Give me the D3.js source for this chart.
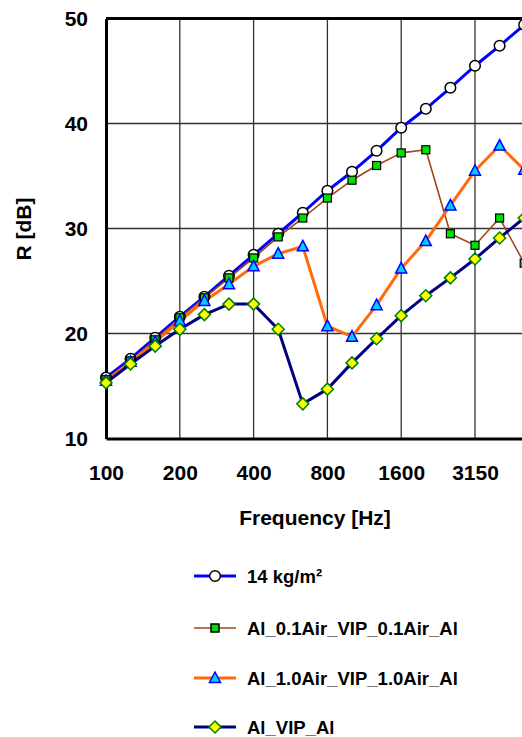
<!DOCTYPE html>
<html><head><meta charset="utf-8">
<script src="https://cdn.jsdelivr.net/npm/d3@7"></script>
<style>body{margin:0;background:#fff}svg{display:block}text{font-family:Arial,"Liberation Sans",sans-serif;font-weight:bold}</style>
</head><body><svg id="c" width="522" height="737"></svg>
<script>
const freqs = ["100","125","160","200","250","315","400","500","630","800","1000","1250","1600","2000","2500","3150","4000","5000"];
const tickLabels = ["100","200","400","800","1600","3150"];
const yTicks = [10,20,30,40,50];
const massLaw = [15.8,17.6,19.6,21.6,23.5,25.5,27.5,29.5,31.5,33.6,35.4,37.4,39.6,41.4,43.4,45.5,47.4,49.4];
const al01 = [15.6,17.4,19.4,21.5,23.4,25.3,27.2,29.2,31.0,32.9,34.6,36.0,37.2,37.5,29.5,28.4,31.0,26.7];
const al10 = [15.5,17.3,19.2,21.2,23.1,24.7,26.4,27.6,28.3,20.7,19.7,22.7,26.2,28.8,32.2,35.5,37.9,35.6];
const alVip = [15.3,17.1,18.8,20.4,21.8,22.8,22.8,20.4,13.3,14.7,17.2,19.5,21.7,23.6,25.3,27.1,29.1,31.0];
const seriesNames = ["14 kg/m²","Al_0.1Air_VIP_0.1Air_Al","Al_1.0Air_VIP_1.0Air_Al","Al_VIP_Al"];

const series = [
  {name:seriesNames[0], values:massLaw, line:"#0000ff", lw:3, marker:"circle", fill:"#ffffff", stroke:"#000000"},
  {name:seriesNames[1], values:al01, line:"#a0461e", lw:1.6, marker:"square", fill:"#00e000", stroke:"#000000"},
  {name:seriesNames[2], values:al10, line:"#ff6a0a", lw:3, marker:"triangle", fill:"#00ccff", stroke:"#0000ff"},
  {name:seriesNames[3], values:alVip, line:"#000080", lw:3, marker:"diamond", fill:"#ffff00", stroke:"#008000"}
];

const svg = d3.select("#c");
const L = 106, T = 18.5, B = 438.5, R = 524.2;
const x = d3.scalePoint().domain(freqs).range([L, R]).padding(0);
const y = d3.scaleLinear().domain([10,50]).range([B, T]);

// grid
const g = svg.append("g");
g.selectAll("line.h").data(yTicks.slice(1,-1)).join("line")
  .attr("x1",L).attr("x2",R).attr("y1",d=>y(d)).attr("y2",d=>y(d))
  .attr("stroke","#333").attr("stroke-width",1.3);
g.selectAll("line.v").data(tickLabels.slice(1)).join("line")
  .attr("x1",d=>x(d)).attr("x2",d=>x(d)).attr("y1",T).attr("y2",B)
  .attr("stroke","#333").attr("stroke-width",1.3);

// axes
const xa = svg.append("g").attr("transform",`translate(0,${B})`)
  .call(d3.axisBottom(x).tickValues(tickLabels).tickSize(0).tickPadding(27));
xa.select(".domain").attr("stroke","#000").attr("stroke-width",3);
xa.selectAll("text").attr("font-size",21).attr("fill","#000");
const ya = svg.append("g").attr("transform",`translate(${L},0)`)
  .call(d3.axisLeft(y).tickValues(yTicks).tickSize(0).tickPadding(18));
ya.select(".domain").attr("stroke","#000").attr("stroke-width",3);
ya.selectAll("text").attr("font-size",21).attr("fill","#000");
svg.append("line").attr("x1",L).attr("x2",R).attr("y1",T).attr("y2",T).attr("stroke","#000").attr("stroke-width",3);

svg.append("text").attr("x",315).attr("y",525).attr("text-anchor","middle").attr("font-size",21).text("Frequency [Hz]");
svg.append("text").attr("transform","translate(31,229) rotate(-90)").attr("text-anchor","middle").attr("font-size",21).text("R [dB]");

function drawMarker(sel, type){
  if(type==="circle") sel.append("circle").attr("r",5.3);
  else if(type==="square") sel.append("rect").attr("x",-4).attr("y",-4).attr("width",8).attr("height",8);
  else if(type==="triangle") sel.append("path").attr("d","M0,-6L5.5,4.5L-5.5,4.5Z");
  else sel.append("path").attr("d","M0,-6L6,0L0,6L-6,0Z");
}

const line = d3.line().x((d,i)=>x(freqs[i])).y(d=>y(d));
series.forEach(s=>{
  svg.append("path").datum(s.values).attr("d",line).attr("fill","none")
    .attr("stroke",s.line).attr("stroke-width",s.lw).attr("stroke-linejoin","round");
});
series.forEach(s=>{
  s.values.forEach((v,i)=>{
    const m = svg.append("g").attr("transform",`translate(${x(freqs[i])},${y(v)})`)
      .attr("fill",s.fill).attr("stroke",s.stroke).attr("stroke-width",s.marker==="square"?1.2:1.5);
    drawMarker(m,s.marker);
  });
});

// legend
const lg = svg.append("g");
series.forEach((s,i)=>{
  const yy = [576,628,678,727][i];
  lg.append("line").attr("x1",194).attr("x2",236).attr("y1",yy).attr("y2",yy)
    .attr("stroke",s.line).attr("stroke-width",s.lw);
  const m = lg.append("g").attr("transform",`translate(215,${yy})`)
    .attr("fill",s.fill).attr("stroke",s.stroke).attr("stroke-width",1.5);
  drawMarker(m,s.marker);
  lg.append("text").attr("x",247).attr("y",yy+6.5).attr("font-size",18.5).text(s.name);
});
</script></body></html>
